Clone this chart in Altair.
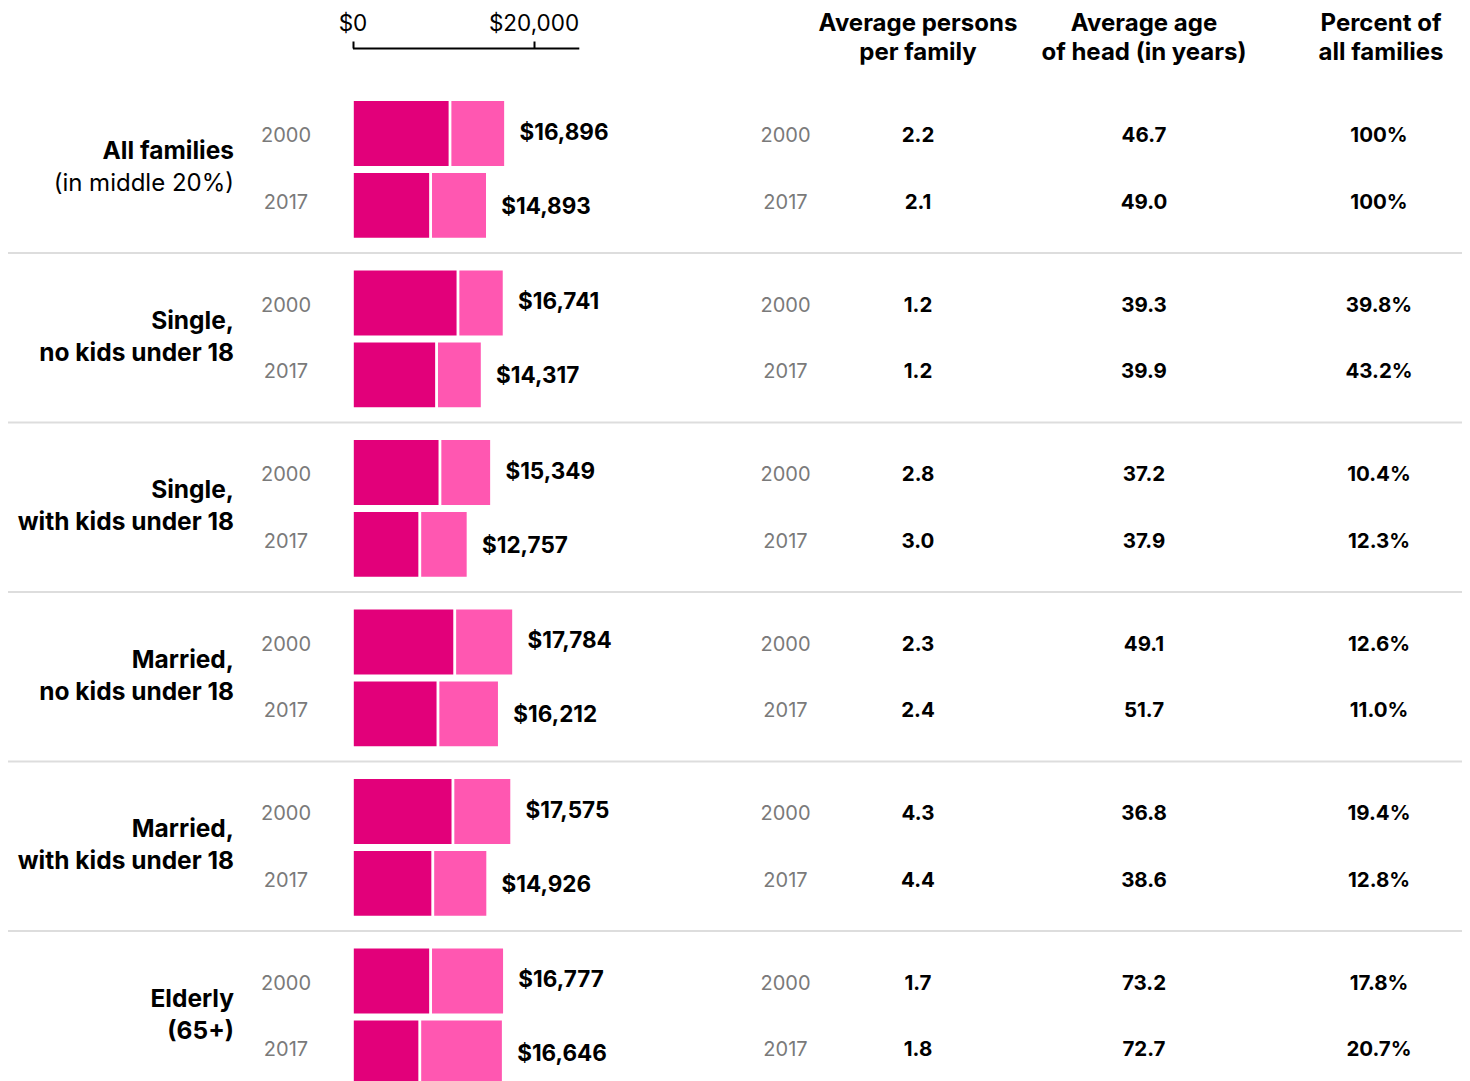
import altair as alt
import pandas as pd

# ---------------- data ----------------
LINE1 = ["All families", "Single,", "Single,", "Married,", "Married,", "Elderly"]
LINE2 = ["(in middle 20%)", "no kids under 18", "with kids under 18",
         "no kids under 18", "with kids under 18", "(65+)"]
YEARS = ["2000", "2017"]

TOTAL_2000 = [16896, 16741, 15349, 17784, 17575, 16777]
TOTAL_2017 = [14893, 14317, 12757, 16212, 14926, 16646]
DARK_2000 = [10780, 11660, 9670, 11305, 11105, 8640]
DARK_2017 = [8640, 9300, 7445, 9450, 8880, 7445]

PERSONS_2000 = [2.2, 1.2, 2.8, 2.3, 4.3, 1.7]
PERSONS_2017 = [2.1, 1.2, 3.0, 2.4, 4.4, 1.8]
AGE_2000 = [46.7, 39.3, 37.2, 49.1, 36.8, 73.2]
AGE_2017 = [49.0, 39.9, 37.9, 51.7, 38.6, 72.7]
PCT_2000 = [100, 39.8, 10.4, 12.6, 19.4, 17.8]
PCT_2017 = [100, 43.2, 12.3, 11.0, 12.8, 20.7]

AXIS_TICKS = [0, 20000]
HEADER_TOP = ["Average persons", "Average age", "Percent of"]
HEADER_BOTTOM = ["per family", "of head (in years)", "all families"]

# ---------------- style ----------------
FONT = "Inter"
DARK = "#E2007A"
LIGHT = "#FF57B1"
GRAY = "#7a7a7a"
SEP = "#dddddd"
W, H = 1454, 1017

CATS = [f"{a} {b}" for a, b in zip(LINE1, LINE2)]

rows = []
for i, c in enumerate(CATS):
    for y, tot, dk, pe, ag, pc in [
        ("2000", TOTAL_2000[i], DARK_2000[i], PERSONS_2000[i], AGE_2000[i], PCT_2000[i]),
        ("2017", TOTAL_2017[i], DARK_2017[i], PERSONS_2017[i], AGE_2017[i], PCT_2017[i]),
    ]:
        rows.append(dict(category=c, line1=LINE1[i], line2=LINE2[i], year=y,
                         total=tot, dark=dk, persons=pe, age=ag,
                         pct_label=("100%" if pc == 100 else f"{pc:.1f}%")))
df = pd.DataFrame(rows)

bars = []
for r in rows:
    bars.append(dict(category=r["category"], year=r["year"], segment="dark", x0=0, x1=r["dark"]))
    bars.append(dict(category=r["category"], year=r["year"], segment="light", x0=r["dark"], x1=r["total"]))
bars_df = pd.DataFrame(bars)

cats_df = pd.DataFrame({"category": CATS, "line1": LINE1, "line2": LINE2})

XSCALE = alt.Scale(domain=[0, 25000], range=[344.5, 570.8], nice=False, zero=True)
XAXIS = alt.Axis(orient="top", values=AXIS_TICKS, format="$,.0f", title=None, grid=False,
                 domainColor="black", domainWidth=2, tickColor="black", tickWidth=2,
                 tickSize=7, labelFontSize=22.5, labelFont=FONT, labelColor="black",
                 labelPadding=6, offset=35.5, labelFlush=False, labelOverlap=False)


def Y(**kw):
    return alt.Y("category:N", scale=alt.Scale(domain=CATS, paddingInner=0, paddingOuter=0),
                 axis=None, title=None, **kw)


YOFF = alt.YOffset("year:N", scale=alt.Scale(domain=YEARS, paddingInner=0.06,
                                             paddingOuter=0.21, align=0.54))

layers = []

# separators
layers.append(
    alt.Chart(cats_df.iloc[1:]).mark_rule(color=SEP, strokeWidth=2).encode(
        y=Y(bandPosition=0), x=alt.value(0), x2=alt.value(W))
)

# bars
layers.append(
    alt.Chart(bars_df).mark_bar(stroke="white", strokeWidth=2.6).encode(
        x=alt.X("x0:Q", scale=XSCALE, axis=XAXIS),
        x2="x1:Q",
        y=Y(), yOffset=YOFF,
        color=alt.Color("segment:N", scale=alt.Scale(domain=["dark", "light"], range=[DARK, LIGHT]),
                        legend=None),
    )
)

# category labels
CAT_FS = 24.5
layers.append(
    alt.Chart(cats_df).mark_text(align="right", baseline="middle", font=FONT, fontSize=CAT_FS,
                                 fontWeight="bold", color="black", dy=-16).encode(
        x=alt.value(226), y=Y(), text="line1:N")
)
layers.append(
    alt.Chart(cats_df).transform_filter(alt.datum.category != CATS[0]).mark_text(
        align="right", baseline="middle", font=FONT, fontSize=CAT_FS, fontWeight="bold",
        color="black", dy=16).encode(x=alt.value(226), y=Y(), text="line2:N")
)
layers.append(
    alt.Chart(cats_df).transform_filter(alt.datum.category == CATS[0]).mark_text(
        align="right", baseline="middle", font=FONT, fontSize=24, fontWeight="normal",
        color="black", dy=16).encode(x=alt.value(226), y=Y(), text="line2:N")
)

YEAR_DY = {"2000": 2.5, "2017": -2.5}
DOLLAR_DY = {"2000": -1, "2017": 1.5}

for yr in YEARS:
    base = alt.Chart(df).transform_filter(alt.datum.year == yr)
    # year labels left and right
    for xpos in (278, 777.5):
        layers.append(base.mark_text(align="center", baseline="middle", font=FONT, fontSize=20,
                                     color=GRAY, dy=YEAR_DY[yr]).encode(
            x=alt.value(xpos), y=Y(), yOffset=YOFF, text="year:N"))
    # dollar labels
    layers.append(base.mark_text(align="left", baseline="middle", font=FONT, fontSize=22.5,
                                 fontWeight="bold", color="black", dx=14,
                                 dy=DOLLAR_DY[yr]).encode(
        x=alt.X("total:Q", scale=XSCALE, axis=XAXIS), y=Y(), yOffset=YOFF,
        text=alt.Text("total:Q", format="$,.0f")))
    # value columns
    for field, xpos, fmt in (("persons", 910, ".1f"), ("age", 1136, ".1f"), ("pct_label", 1371, None)):
        txt = alt.Text(f"{field}:Q", format=fmt) if fmt else alt.Text(f"{field}:N")
        layers.append(base.mark_text(align="center", baseline="middle", font=FONT, fontSize=20.5,
                                     fontWeight="bold", color="black", dy=YEAR_DY[yr]).encode(
            x=alt.value(xpos), y=Y(), yOffset=YOFF, text=txt))

# column headers (two lines each)
for top, bottom, xpos in zip(HEADER_TOP, HEADER_BOTTOM, (910, 1136, 1373)):
    for txt, ypos in ((top, -59.5), (bottom, -30.5)):
        layers.append(
            alt.Chart(pd.DataFrame({"h": [txt]})).mark_text(
                align="center", baseline="middle", font=FONT, fontSize=24, fontWeight="bold",
                color="black").encode(
                x=alt.value(xpos), y=alt.value(ypos), text="h:N")
        )

chart = alt.layer(*layers).properties(
    width=W, height=H,
    padding={"left": 0, "top": 75.5, "right": 0, "bottom": 0},
    autosize=alt.AutoSizeParams(type="none"),
).configure_view(stroke=None)

chart.save("out.html", embed_options={"renderer": "svg", "actions": False})
